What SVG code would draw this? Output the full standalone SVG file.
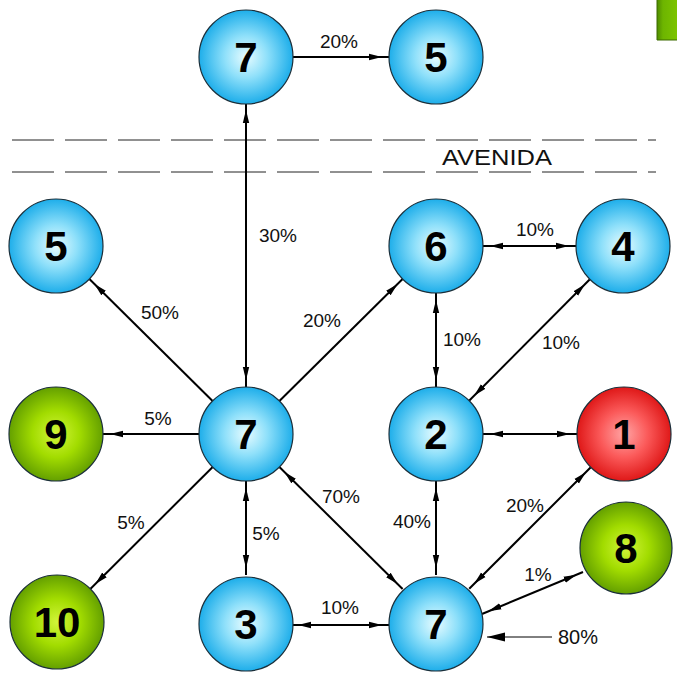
<svg xmlns="http://www.w3.org/2000/svg" width="677" height="678" viewBox="0 0 677 678">
<defs>
<radialGradient id="gBlue" cx="50%" cy="50%" r="50%">
<stop offset="0" stop-color="#e8fcff"/>
<stop offset="0.45" stop-color="#8fe0fa"/>
<stop offset="1" stop-color="#1eaeea"/>
</radialGradient>
<radialGradient id="gGreen" cx="50%" cy="50%" r="50%">
<stop offset="0" stop-color="#d2f53a"/>
<stop offset="0.5" stop-color="#a2dc00"/>
<stop offset="1" stop-color="#64a000"/>
</radialGradient>
<radialGradient id="gRed" cx="50%" cy="50%" r="50%">
<stop offset="0" stop-color="#ffa5a5"/>
<stop offset="0.5" stop-color="#fb5a5a"/>
<stop offset="1" stop-color="#df1818"/>
</radialGradient>
<linearGradient id="gRect" x1="0" y1="0" x2="1" y2="0">
<stop offset="0" stop-color="#4f8c00"/>
<stop offset="0.3" stop-color="#6db500"/>
<stop offset="1" stop-color="#7cc400"/>
</linearGradient>
<marker id="ah" viewBox="0 0 22 8" markerWidth="22" markerHeight="8" refX="20" refY="4" orient="auto-start-reverse" markerUnits="userSpaceOnUse">
<path d="M0,0.8 L13,4 L0,7.2 Z" fill="#000"/>
</marker>
<marker id="ah80" viewBox="0 0 20 10" markerWidth="20" markerHeight="10" refX="18" refY="5" orient="auto-start-reverse" markerUnits="userSpaceOnUse">
<path d="M0,0.5 L18,5 L0,9.5 Z" fill="#000"/>
</marker>
</defs>
<style>
.node circle{stroke:#1b2f3a;stroke-width:1.2}
.blue circle{fill:url(#gBlue)}
.green circle{fill:url(#gGreen)}
.red circle{fill:url(#gRed)}
.node text{font-family:"Liberation Sans",Arial,sans-serif;font-weight:bold;font-size:42px;fill:#000;text-anchor:middle}
.edge{stroke:#000;stroke-width:2;fill:none}
.one{marker-end:url(#ah)}
.two{marker-start:url(#ah);marker-end:url(#ah)}
.lbl{font-family:"Liberation Sans",Arial,sans-serif;font-size:19px;fill:#111;text-anchor:middle}
.road{stroke:#222;stroke-width:1;stroke-dasharray:42 11;fill:none}
</style>
<rect x="657" y="0" width="20" height="40" fill="url(#gRect)"/>
<line x1="657" y1="0" x2="657" y2="40" stroke="#3d6a00" stroke-width="1"/>
<line x1="657" y1="40" x2="677" y2="40" stroke="#3d6a00" stroke-width="1"/>
<g id="road">
<line class="road" x1="12" y1="140" x2="656" y2="140"/>
<line class="road" x1="12" y1="172" x2="656" y2="172"/>
<text x="442" y="165" textLength="110" lengthAdjust="spacingAndGlyphs" style="font-family:'Liberation Sans',Arial,sans-serif;font-size:22px;fill:#111">AVENIDA</text>
</g>
<g id="connectors">
<line class="edge one" x1="293" y1="57" x2="389" y2="57"/>
<line class="edge two" x1="246" y1="103" x2="246" y2="387"/>
<line class="edge one" x1="212.6" y1="401" x2="89.4" y2="279"/>
<line class="edge one" x1="199" y1="434" x2="103" y2="434"/>
<line class="edge one" x1="212.7" y1="467" x2="90.3" y2="589"/>
<line class="edge two" x1="246" y1="481" x2="246" y2="575"/>
<line class="edge one" x1="279.4" y1="401" x2="402.6" y2="279"/>
<line class="edge two" x1="279.4" y1="467" x2="402.6" y2="589"/>
<line class="edge two" x1="483" y1="246" x2="576" y2="246"/>
<line class="edge two" x1="436" y1="293" x2="436" y2="387"/>
<line class="edge two" x1="589.9" y1="279.3" x2="469.1" y2="400.7"/>
<line class="edge two" x1="483" y1="434" x2="577" y2="434"/>
<line class="edge two" x1="436" y1="481" x2="436" y2="575"/>
<line class="edge two" x1="590.8" y1="467.2" x2="469.2" y2="588.8"/>
<line class="edge two" x1="583" y1="572" x2="482" y2="614"/>
<line class="edge two" x1="291" y1="625" x2="389" y2="625"/>
<line x1="552" y1="637" x2="487" y2="637" stroke="#000" stroke-width="1" marker-end="url(#ah80)"/>
</g>
<g id="labels">
<text class="lbl" x="339" y="48">20%</text>
<text class="lbl" x="278" y="242">30%</text>
<text class="lbl" x="160" y="319">50%</text>
<text class="lbl" x="322" y="327">20%</text>
<text class="lbl" x="535" y="236">10%</text>
<text class="lbl" x="462" y="346">10%</text>
<text class="lbl" x="561" y="349">10%</text>
<text class="lbl" x="158" y="425">5%</text>
<text class="lbl" x="341" y="503">70%</text>
<text class="lbl" x="412" y="528">40%</text>
<text class="lbl" x="525" y="512">20%</text>
<text class="lbl" x="131" y="529">5%</text>
<text class="lbl" x="266" y="540">5%</text>
<text class="lbl" x="538" y="581">1%</text>
<text class="lbl" x="340" y="614">10%</text>
<text class="lbl" x="578" y="644" style="font-size:20px">80%</text>
</g>
<g id="n7top" class="node blue"><circle cx="246" cy="57" r="47"/><text x="246" y="72">7</text></g>
<g id="n5top" class="node blue"><circle cx="436" cy="57" r="47"/><text x="436" y="72">5</text></g>
<g id="n5left" class="node blue"><circle cx="56" cy="246" r="47"/><text x="56" y="261">5</text></g>
<g id="n6" class="node blue"><circle cx="436" cy="246" r="47"/><text x="436" y="261">6</text></g>
<g id="n4" class="node blue"><circle cx="623" cy="246" r="47"/><text x="623" y="261">4</text></g>
<g id="n9" class="node green"><circle cx="56" cy="434" r="47"/><text x="56" y="449">9</text></g>
<g id="n7center" class="node blue"><circle cx="246" cy="434" r="47"/><text x="246" y="449">7</text></g>
<g id="n2" class="node blue"><circle cx="436" cy="434" r="47"/><text x="436" y="449">2</text></g>
<g id="n1" class="node red"><circle cx="624" cy="434" r="47"/><text x="624" y="449">1</text></g>
<g id="n8" class="node green"><circle cx="626" cy="548" r="46"/><text x="626" y="563">8</text></g>
<g id="n10" class="node green"><circle cx="57" cy="622" r="47"/><text x="57" y="637">10</text></g>
<g id="n3" class="node blue"><circle cx="246" cy="624" r="47"/><text x="246" y="639">3</text></g>
<g id="n7bottom" class="node blue"><circle cx="436" cy="624" r="47"/><text x="436" y="639">7</text></g>
</svg>
